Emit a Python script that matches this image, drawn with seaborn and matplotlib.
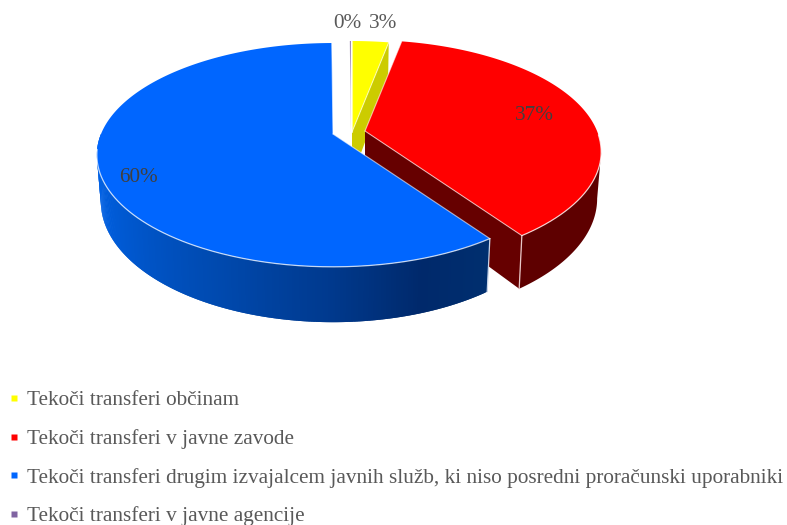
import numpy as np
import matplotlib
matplotlib.use("Agg")
import matplotlib.pyplot as plt
import seaborn as sns
from matplotlib.lines import Line2D
from matplotlib.colors import to_rgb

categories = ["Tekoči transferi občinam", "Tekoči transferi v javne zavode",
              "Tekoči transferi drugim izvajalcem javnih služb, ki niso posredni proračunski uporabniki",
              "Tekoči transferi v javne agencije"]
values = [3.0, 37.3, 59.6, 0.1]
labels = ["3%", "37%", "60%", "0%"]
top_colors = ["#FFFF00", "#FF0000", "#0066FF", "#8064A2"]
radial_colors = ["#CCCC00", "#660000", "#003070", "#8064A2"]

sns.set_theme(style="white")
plt.rcParams["font.family"] = ["Liberation Serif", "DejaVu Serif"]
TEXT = "#595959"
FS = 15.35

fig = plt.figure(figsize=(7.87, 5.25), dpi=100)
ax = fig.add_axes([0, 0, 1, 1])
ax.set_xlim(0, 787)
ax.set_ylim(525, 0)
ax.axis("off")

# Perspective camera for the tilted disc
K, A, B, H, SHRINK = 0.187, 108.0, 232.0, 45.0, 0.983
apex = [(352, 132), (365, 131), (333, 134), (351, 132)]
TANGENT = np.arccos(-K)  # angle at which the rim reaches its widest point on screen


def proj(i, ang, r=1.0, bottom=False):
    u, v = r * np.sin(ang), r * np.cos(ang)
    den = 1 + K * v
    s = SHRINK if bottom else 1.0
    x = apex[i][0] + s * B * u / den
    y = apex[i][1] - A * v / den + (H / den if bottom else 0)
    return x, y


edges = np.radians(np.concatenate([[0], np.cumsum(values)]) * 3.6)


def top(i, zorder, arc_from=None, arc_to=None):
    a = np.linspace(edges[i], edges[i + 1], 200)
    x, y = proj(i, a)
    ax.fill(np.r_[apex[i][0], x], np.r_[apex[i][1], y], color=top_colors[i], lw=0, zorder=zorder)
    # pale rim: both radii and the front part of the arc
    for ang in (edges[i], edges[i + 1]):
        xe, ye = proj(i, ang)
        ax.plot([apex[i][0], xe], [apex[i][1], ye], color="#FFFFFF", alpha=0.6, lw=0.8, zorder=zorder + 0.5)
    if arc_from is not None:
        b = np.linspace(arc_from, arc_to, 200)
        xa, ya = proj(i, b)
        ax.plot(xa, ya, color="#FFFFFF", alpha=0.75, lw=0.9, zorder=zorder + 0.5)


def radial(i, ang, zorder):
    xt, yt = proj(i, ang)
    xb, yb = proj(i, ang, bottom=True)
    x0, y0 = proj(i, ang, 0.0)
    x1, y1 = proj(i, ang, 0.0, bottom=True)
    ax.fill([x0, xt, xb, x1], [y0, yt, yb, y1], color=radial_colors[i], lw=0, zorder=zorder)


def solid_wall(i, a0, a1, color, zorder):
    aa = np.linspace(a0, a1, 200)
    xt, yt = proj(i, aa)
    xb, yb = proj(i, aa, bottom=True)
    ax.fill(np.r_[xt, xb[::-1]], np.r_[yt, yb[::-1]], color=color, lw=0, zorder=zorder)


def wall(i, a0, a1, ramp, zorder, n=240):
    aa = np.linspace(a0, a1, n + 1)
    xt, yt = proj(i, aa)
    xb, yb = proj(i, aa, bottom=True)
    pos = np.linspace(0, 1, n)
    stops, cols = zip(*ramp)
    cols = np.array([to_rgb(c) for c in cols])
    for j in range(n):
        c = [np.interp(pos[j], stops, cols[:, k]) for k in range(3)]
        j2 = min(j + 2, n)  # overlap neighbours so no seams show
        ax.fill([xt[j], xt[j2], xb[j2], xb[j]], [yt[j], yt[j2], yb[j2], yb[j]],
                color=c, lw=0, zorder=zorder)


# yellow: radial face then top
radial(0, edges[1], 1)
top(0, 2)
# red: outer wall, radial face, top
solid_wall(1, TANGENT, edges[2], "#5E0000", 3)
radial(1, edges[2], 3)
xe, ye = proj(1, edges[2])
xf, yf = proj(1, edges[2], bottom=True)
ax.plot([xe, xf], [ye, yf], color="#E8C8C8", lw=0.9, zorder=3.5)
top(1, 4, np.radians(92), edges[2])
# purple sliver
top(3, 5)
# blue: outer wall then top
wall(2, edges[2], np.radians(270),
     [(0, "#002F6F"), (0.13, "#00296B"), (0.29, "#003A8F"), (0.48, "#004AB0"),
      (0.7, "#0058D0"), (0.9, "#0062E8"), (1, "#0060E0")], 6)
xe, ye = proj(2, edges[2])
xf, yf = proj(2, edges[2], bottom=True)
ax.plot([xe, xf], [ye, yf], color="#C8D4E8", lw=0.9, zorder=6.5)
top(2, 7, edges[2], np.radians(262))

# data labels
label_pos = [(383, 23), (534, 115), (138, 177), (347, 24)]
label_cols = [TEXT, "#404040", "#404040", TEXT]
for (lx, ly), t, c in zip(label_pos, labels, label_cols):
    ax.text(lx, ly, t, ha="center", va="center", fontsize=FS, color=c, zorder=20)

# legend
legend_colors = ["#FFFF00", "#FF0000", "#0066FF", "#8064A2"]
handles = [Line2D([], [], ls="", marker="s", ms=4.4, mfc=legend_colors[i], mec="none", label=categories[i])
           for i in range(4)]
leg = ax.legend(handles=handles, loc="lower left", bbox_to_anchor=(0.0, -0.015), frameon=False,
                fontsize=FS, labelcolor=TEXT, handlelength=0.75, handletextpad=0.2,
                labelspacing=0.88, borderaxespad=0, borderpad=0.3)
leg.set_zorder(20)

fig.savefig("out.png", dpi=100, facecolor="white")
